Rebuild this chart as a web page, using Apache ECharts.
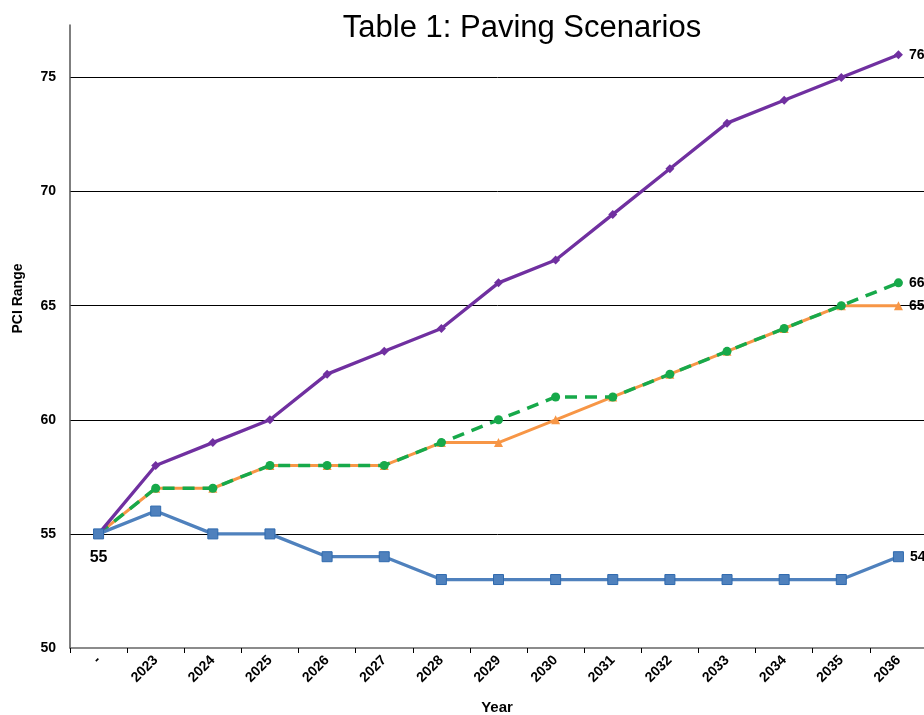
<!DOCTYPE html>
<html>
<head>
<meta charset="utf-8">
<script src="https://cdn.jsdelivr.net/npm/echarts@6/dist/echarts.min.js"></script>
<style>
  html, body { margin: 0; padding: 0; background: #fff; }
  #chart { width: 924px; height: 715px; }
</style>
</head>
<body>
<div id="chart"></div>
<script>
// categories and values
var years = ['-', '2023', '2024', '2025', '2026', '2027', '2028', '2029', '2030', '2031', '2032', '2033', '2034', '2035', '2036'];
var purpleVals = [55, 58, 59, 60, 62, 63, 64, 66, 67, 69, 71, 73, 74, 75, 76];
var greenVals  = [55, 57, 57, 58, 58, 58, 59, 60, 61, 61, 62, 63, 64, 65, 66];
var orangeVals = [55, 57, 57, 58, 58, 58, 59, 59, 60, 61, 62, 63, 64, 65, 65];
var blueVals   = [55, 56, 55, 55, 54, 54, 53, 53, 53, 53, 53, 53, 53, 53, 54];

var fontBase = 'Liberation Sans, Arial, sans-serif';
var lastIdx = years.length - 1;

// label only the last point
function endLabel() {
  return {
    show: true,
    position: 'right',
    distance: 6,
    fontFamily: fontBase,
    fontWeight: 'bold',
    fontSize: 14,
    color: '#000',
    formatter: function (p) {
      return p.dataIndex === lastIdx ? p.value : '';
    }
  };
}

// blue series: first point gets its own label below
var blueData = blueVals.map(function (v, i) {
  if (i !== 0) return v;
  return {
    value: v,
    label: {
      show: true,
      position: 'bottom',
      distance: 10,
      fontFamily: fontBase,
      fontWeight: 'bold',
      fontSize: 16,
      color: '#000',
      formatter: '{c}'
    }
  };
});

var chart = echarts.init(document.getElementById('chart'));

var option = {
  backgroundColor: '#fff',
  animation: false,
  title: {
    text: 'Table 1: Paving Scenarios',
    left: 517,
    textAlign: 'center',
    top: 8,
    textStyle: {
      fontFamily: fontBase,
      fontWeight: 'normal',
      fontSize: 31,
      color: '#000'
    }
  },
  grid: {
    left: 70,
    right: -3,
    top: 25,
    bottom: 67,
    containLabel: false,
    outerBoundsMode: 'none'
  },
  xAxis: {
    type: 'category',
    data: years,
    boundaryGap: true,
    name: 'Year',
    nameLocation: 'middle',
    nameGap: 52,
    nameTextStyle: {
      fontFamily: fontBase,
      fontWeight: 'bold',
      fontSize: 15,
      color: '#000',
      padding: [0, 0, 0, -(924 - 70 + 3) + 2 * (497 - 70)]
    },
    axisLine: { lineStyle: { color: '#666', width: 1.5 } },
    axisTick: { show: true, alignWithLabel: false, length: 5, lineStyle: { color: '#000' } },
    axisLabel: {
      rotate: 45,
      margin: 10,
      fontFamily: fontBase,
      fontWeight: 'bold',
      fontSize: 14,
      color: '#000'
    },
    splitLine: { show: false }
  },
  yAxis: {
    type: 'value',
    min: 50,
    max: 77.3,
    interval: 5,
    name: 'PCI Range',
    nameLocation: 'middle',
    nameGap: 45,
    nameRotate: 90,
    nameTextStyle: {
      fontFamily: fontBase,
      fontWeight: 'bold',
      fontSize: 14,
      color: '#000',
      padding: [0, 0, 0, 76]
    },
    axisLine: { show: true, lineStyle: { color: '#555', width: 1.5 } },
    axisTick: { show: false },
    axisLabel: {
      margin: 14,
      fontFamily: fontBase,
      fontWeight: 'bold',
      fontSize: 14,
      color: '#000',
      formatter: function (v) {
        return v % 5 === 0 ? v : '';
      }
    },
    splitLine: {
      show: true,
      lineStyle: {
        color: ['rgba(0,0,0,0)', '#000', '#000', '#000', '#000', '#000', 'rgba(0,0,0,0)'],
        width: 1
      }
    }
  },
  series: [
    {
      name: 'Orange',
      type: 'line',
      data: orangeVals,
      symbol: 'triangle',
      symbolSize: 9,
      lineStyle: { color: '#F79646', width: 3 },
      itemStyle: { color: '#F79646' },
      label: endLabel(),
      z: 2
    },
    {
      name: 'Green',
      type: 'line',
      data: greenVals,
      symbol: 'circle',
      symbolSize: 9,
      lineStyle: { color: '#17A94A', width: 3.5, type: [12, 8] },
      itemStyle: { color: '#17A94A' },
      label: endLabel(),
      z: 3
    },
    {
      name: 'Purple',
      type: 'line',
      data: purpleVals,
      symbol: 'diamond',
      symbolSize: 9,
      lineStyle: { color: '#7030A0', width: 3.3 },
      itemStyle: { color: '#7030A0' },
      label: endLabel(),
      z: 4
    },
    {
      name: 'Blue',
      type: 'line',
      data: blueData,
      symbol: 'rect',
      symbolSize: 10,
      lineStyle: { color: '#4F81BD', width: 3.3 },
      itemStyle: { color: '#4F81BD', borderColor: '#2F6AAE', borderWidth: 1 },
      label: endLabel(),
      z: 5
    }
  ]
};

chart.setOption(option);
</script>
</body>
</html>
